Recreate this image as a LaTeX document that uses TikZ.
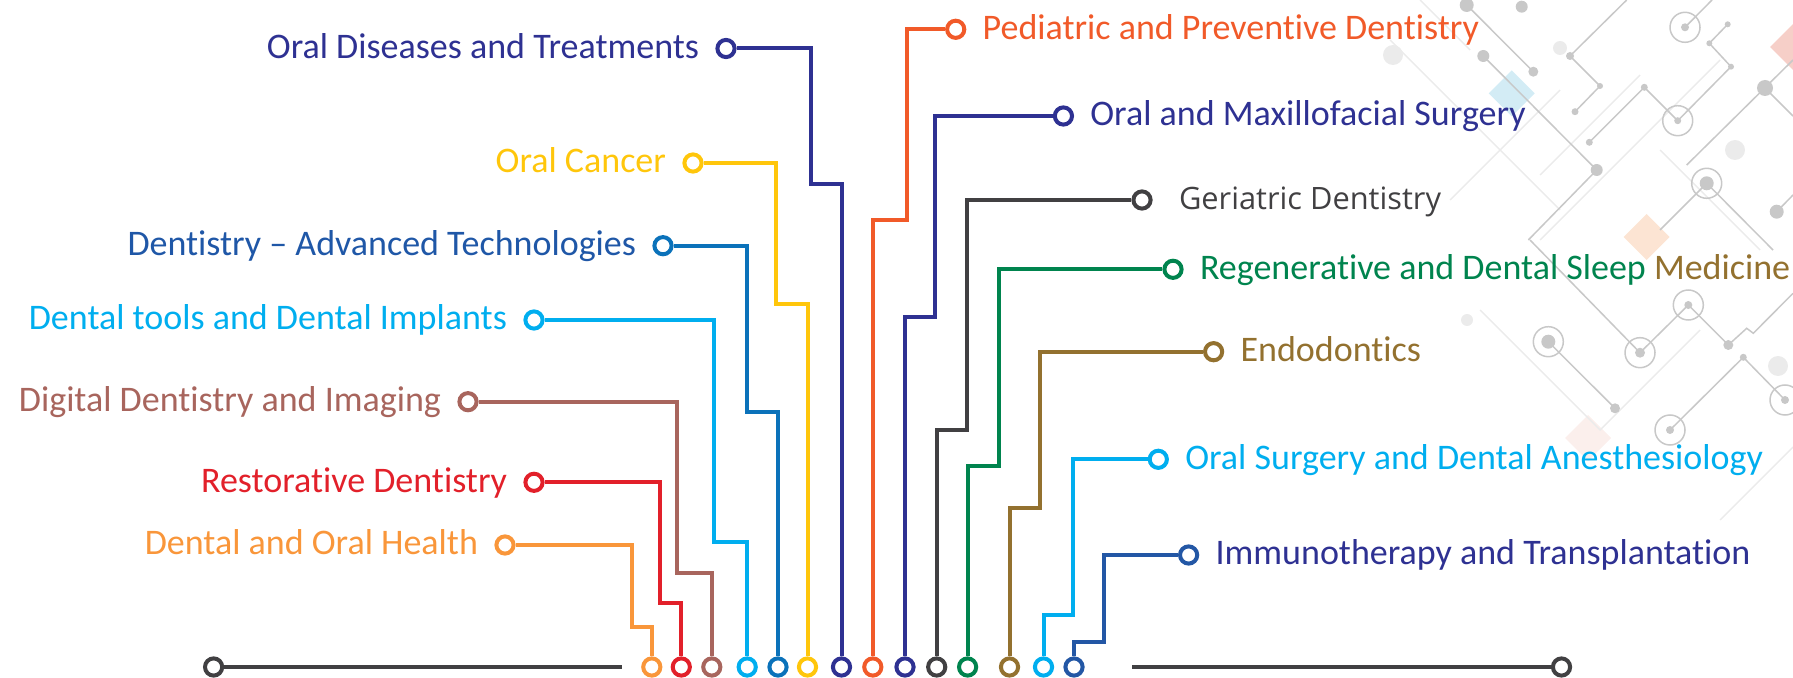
\documentclass[tikz,border=0pt]{standalone}
\usepackage{fontspec}
\setmainfont{Carlito}[RawFeature={-liga;-clig}]
\newfontfamily\opensans{Open Sans}
\usetikzlibrary{positioning}

\definecolor{indigo}{HTML}{2E3192}
\definecolor{sunny}{HTML}{FFC60B}
\definecolor{ocean}{HTML}{0B72BA}
\definecolor{oceantext}{HTML}{1F57A7}
\definecolor{sky}{HTML}{00AEEF}
\definecolor{rosy}{HTML}{A8655D}
\definecolor{crimson}{HTML}{E2202A}
\definecolor{apricot}{HTML}{F9963A}
\definecolor{tangerine}{HTML}{F15A29}
\definecolor{slate}{HTML}{414042}
\definecolor{forest}{HTML}{00844E}
\definecolor{bronze}{HTML}{93712F}
\definecolor{royal}{HTML}{2357A5}
\definecolor{netdark}{HTML}{C8C8C8}
\definecolor{netlight}{HTML}{EBEBEB}
\definecolor{skyd}{HTML}{D3ECF5}
\definecolor{peach}{HTML}{FCE4D3}
\definecolor{blush}{HTML}{FBEFEC}
\definecolor{rosed}{HTML}{F6CFC8}

\newcommand{\labelfont}{\fontsize{18pt}{21.6pt}\selectfont}

\begin{document}
\begin{tikzpicture}[x=0.5pt,y=-0.5pt,
  ring/.style={circle,draw=#1,fill=white,line width=2pt,minimum size=8.6pt,inner sep=0pt},
  wire/.style={draw=#1,line width=2pt},
  lefttext/.style={text=#1,font=\labelfont,inner sep=0pt,anchor=mid east,yshift=-2.5pt},
  righttext/.style={text=#1,font=\labelfont,inner sep=0pt,anchor=mid west,yshift=-2.5pt}]

\useasboundingbox (0,0) rectangle (1793,678);

% background network
\begin{scope}
  \clip (0,0) rectangle (1793,678);
  \foreach \cx/\cy/\col in {1511.7/93.3/skyd, 1646.7/237/peach, 1588/438/blush, 1793/47/rosed}
    \fill[\col] (\cx,\cy) ++(0,-23) -- ++(23,23) -- ++(-23,23) -- ++(-23,-23) -- cycle;
  \begin{scope}[netlight, line width=0.7pt]
    \draw (1390,40) -- (1560,210);
    \draw (1420,0) -- (1470,50);
    \draw (1450,200) -- (1560,90);
    \draw (1540,240) -- (1720,60);
    \draw (1540,175) -- (1640,75);
    \draw (1480,310) -- (1600,430) -- (1700,330);
    \draw (1660,150) -- (1760,250);
    \draw (1720,520) -- (1793,447);
    \fill (1393,55) circle[radius=10];
    \fill (1560,48) circle[radius=7];
    \fill (1735,150) circle[radius=10];
    \fill (1778,366) circle[radius=10];
    \fill (1467,320) circle[radius=6];
  \end{scope}
  \begin{scope}[netdark, line width=0.75pt]
    \draw (1466.7,5) -- (1533.3,71.7);
    \draw (1483.3,56) -- (1596.7,170) -- (1528.3,240);
    \draw (1626.7,0) -- (1570,56) -- (1600,86) -- (1575,111.7);
    \draw (1589.3,142.3) -- (1644.3,87.3) -- (1677.7,120.7) -- (1731,66.7) -- (1709.3,43.3) -- (1727.7,24.3);
    \draw (1685,27.3) -- (1712,0);
    \draw (1686.7,165) -- (1793,60);
    \draw (1765,88) -- (1793,116);
    \draw (1660,230) -- (1706.7,183.3) -- (1773,250);
    \draw (1776.7,211.7) -- (1793,195);
    \draw (1548.3,341.7) -- (1615,408.3);
    \draw (1530,240) -- (1640,352.7) -- (1688.3,305) -- (1728.3,345) -- (1746.7,328.3) -- (1753.3,333.3) -- (1793,293.3);
    \draw (1670,430) -- (1743.3,357.3) -- (1786.7,401.7);
    \foreach \px/\py/\r in {1466.7/5/7, 1521.7/6.7/6, 1533.3/71.7/5, 1483.3/56/6, 1596.7/170/6,
        1570/56/4, 1600/86/3, 1575/111.7/3.5, 1589.3/142.3/3.5, 1644.3/87.3/3.5, 1677.7/120.7/3.5,
        1731/66.7/3, 1709.3/43.3/3, 1727.7/24.3/3, 1685/27.3/4, 1765/88/8, 1706.7/183.3/7,
        1776.7/211.7/7, 1548.3/341.7/7, 1615/408.3/5, 1640/352.7/5, 1688.3/305/4, 1728.3/345/5,
        1670/430/4, 1743.3/357.3/3.5, 1785/400/4}
      \fill (\px,\py) circle[radius=\r];
    \foreach \px/\py in {1677.7/120.7, 1685/27.3, 1706.7/183.3, 1548.3/341.7, 1640/352.7,
        1688.3/305, 1670/430, 1785/400}
      \draw (\px,\py) circle[radius=15];
  \end{scope}
\end{scope}

% bottom pins
\node[ring=apricot] (b1) at (651.8,667) {};
\node[ring=crimson] (b2) at (681.3,667) {};
\node[ring=rosy] (b3) at (711.8,667) {};
\node[ring=sky] (b4) at (747.2,667) {};
\node[ring=ocean] (b5) at (778,667) {};
\node[ring=sunny] (b6) at (807.5,667) {};
\node[ring=indigo] (b7) at (841.5,667) {};
\node[ring=tangerine] (b8) at (872.8,667) {};
\node[ring=indigo] (b9) at (905,667) {};
\node[ring=slate] (b10) at (936.7,667) {};
\node[ring=forest] (b11) at (967.6,667) {};
\node[ring=bronze] (b12) at (1009.5,667) {};
\node[ring=sky] (b13) at (1043.5,667) {};
\node[ring=royal] (b14) at (1074,667) {};

% base line
\node[ring=slate] (baseL) at (213.6,667) {};
\node[ring=slate] (baseR) at (1561.5,667) {};
\coordinate (baseLend) at (622,667);
\coordinate (baseRend) at (1132,667);
\draw[wire=slate,line width=2.2pt] (baseL) -- (baseLend);
\draw[wire=slate,line width=2.2pt] (baseRend) -- (baseR);

% left topics
\node[ring=apricot] (health) at (505,545) {};
\node[ring=crimson] (restor) at (534,482.3) {};
\node[ring=rosy] (digital) at (468,401.7) {};
\node[ring=sky] (tools) at (534,320) {};
\node[ring=ocean] (advanced) at (663,245.7) {};
\node[ring=sunny] (cancer) at (693,163) {};
\node[ring=indigo] (diseases) at (726,48.5) {};

\node[left=8pt of health, lefttext=apricot] {Dental and Oral Health};
\node[left=8pt of restor, lefttext=crimson] {Restorative Dentistry};
\node[left=8pt of digital, lefttext=rosy] {Digital Dentistry and Imaging};
\node[left=8pt of tools, lefttext=sky] {Dental tools and Dental Implants};
\node[left=8pt of advanced, lefttext=oceantext] {Dentistry -- Advanced Technologies};
\node[left=8pt of cancer, lefttext=sunny] {Oral Cancer};
\node[left=8pt of diseases, lefttext=indigo] {Oral Diseases and Treatments};

\draw[wire=apricot] (health) -| (631.5,627.3) -| (b1);
\draw[wire=crimson] (restor) -| (660,603.3) -| (b2);
\draw[wire=rosy] (digital) -| (677.4,573.3) -| (b3);
\draw[wire=sky] (tools) -| (714,541.7) -| (b4);
\draw[wire=ocean] (advanced) -| (747.4,412) -| (b5);
\draw[wire=sunny] (cancer) -| (776,304) -| (b6);
\draw[wire=indigo] (diseases) -| (810.7,184) -| (b7);

% right topics
\node[ring=tangerine] (pediatric) at (955.7,29.3) {};
\node[ring=indigo] (maxillo) at (1063.4,116) {};
\node[ring=slate] (geriatric) at (1142,200) {};
\node[ring=forest] (regen) at (1173,269.3) {};
\node[ring=bronze] (endo) at (1213.6,351.7) {};
\node[ring=sky] (anesth) at (1158.3,459.3) {};
\node[ring=royal] (immuno) at (1188.6,555) {};

\node[right=8pt of pediatric, righttext=tangerine] {Pediatric and Preventive Dentistry};
\node[right=8pt of maxillo, righttext=indigo] {Oral and Maxillofacial Surgery};
\node[right=13pt of geriatric, righttext=slate, font=\opensans\fontsize{15.4pt}{18pt}\selectfont] {Geriatric Dentistry};
\node[right=8pt of regen, righttext=forest] {Regenerative and Dental Sleep \textcolor{bronze}{Medicine}};
\node[right=8pt of endo, righttext=bronze] {Endodontics};
\node[right=8pt of anesth, righttext=sky] {Oral Surgery and Dental Anesthesiology};
\node[right=8pt of immuno, righttext=indigo] {Immunotherapy and Transplantation};

\draw[wire=tangerine] (pediatric) -| (906.5,220) -| (b8);
\draw[wire=indigo] (maxillo) -| (935.3,317) -| (b9);
\draw[wire=slate] (geriatric) -| (967.3,430) -| (b10);
\draw[wire=forest] (regen) -| (999.4,466) -| (b11);
\draw[wire=bronze] (endo) -| (1040.1,508.3) -| (b12);
\draw[wire=sky] (anesth) -| (1073.3,615) -| (b13);
\draw[wire=royal] (immuno) -| (1104.2,641.7) -| (b14);

\end{tikzpicture}
\end{document}
